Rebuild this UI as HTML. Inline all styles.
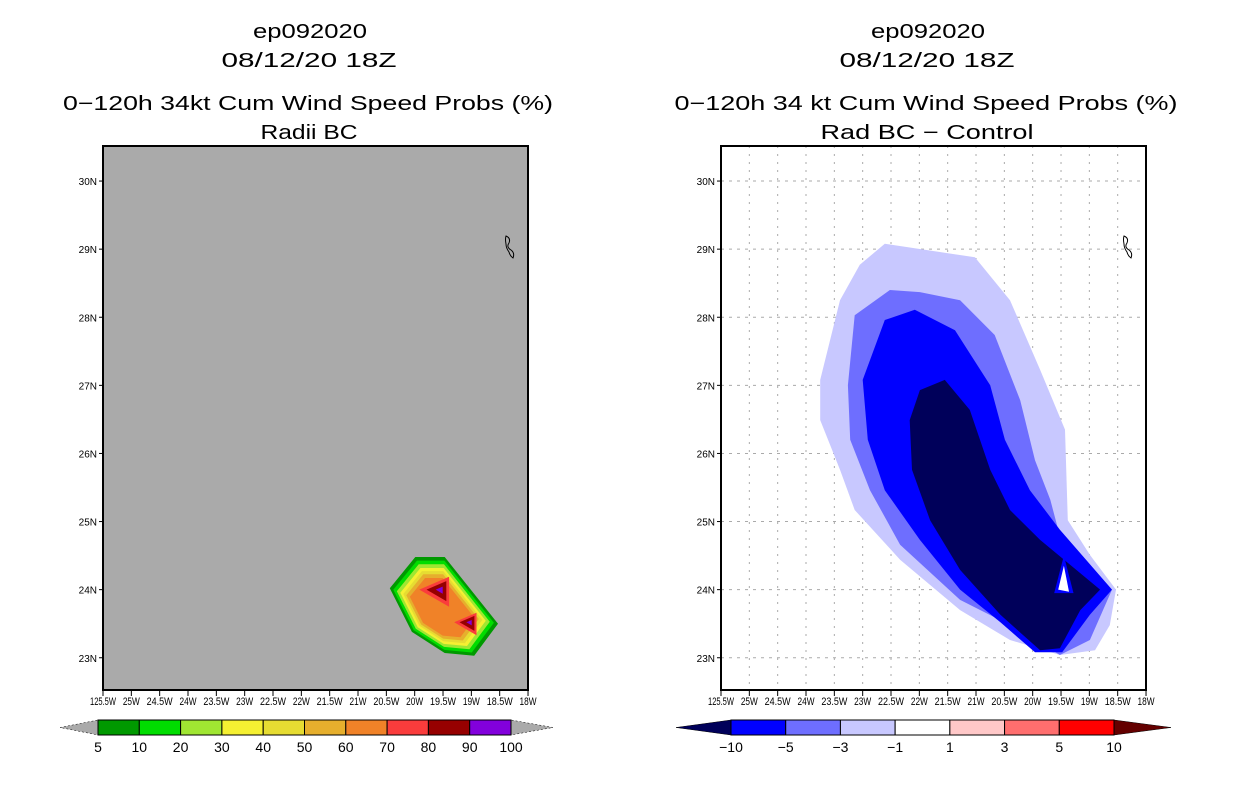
<!DOCTYPE html>
<html><head><meta charset="utf-8"><style>
body{margin:0;background:#fff;width:1236px;height:800px;overflow:hidden}
svg text{font-family:"Liberation Sans",sans-serif}
</style></head><body>
<svg id="s" width="1236" height="800" viewBox="0 0 1236 800">
<g font-size="20" text-anchor="middle" fill="#000" lengthAdjust="spacingAndGlyphs">
<text x="310" y="38" textLength="114" lengthAdjust="spacingAndGlyphs">ep092020</text>
<text x="309" y="67" textLength="175" lengthAdjust="spacingAndGlyphs">08/12/20 18Z</text>
<text x="308" y="110" textLength="490" lengthAdjust="spacingAndGlyphs">0−120h 34kt Cum Wind Speed Probs (%)</text>
<text x="309" y="139" textLength="97" lengthAdjust="spacingAndGlyphs">Radii BC</text>
<text x="928" y="38" textLength="114" lengthAdjust="spacingAndGlyphs">ep092020</text>
<text x="927" y="67" textLength="175" lengthAdjust="spacingAndGlyphs">08/12/20 18Z</text>
<text x="926" y="110" textLength="503" lengthAdjust="spacingAndGlyphs">0−120h 34 kt Cum Wind Speed Probs (%)</text>
<text x="927" y="139" textLength="213" lengthAdjust="spacingAndGlyphs">Rad BC − Control</text>
</g>
<g id="L"></g><g id="R"></g>
</svg>
<script>
const lonTicks=[-25.5,-25,-24.5,-24,-23.5,-23,-22.5,-22,-21.5,-21,-20.5,-20,-19.5,-19,-18.5,-18];
const lonLabels=["125.5W","25W","24.5W","24W","23.5W","23W","22.5W","22W","21.5W","21W","20.5W","20W","19.5W","19W","18.5W","18W"];
const latTicks=[23,24,25,26,27,28,29,30];
const latLabels=["23N","24N","25N","26N","27N","28N","29N","30N"];
// left: probability field polygons
const probOuter=[[-20.44,24.02],[-19.99,24.48],[-19.47,24.48],[-18.53,23.50],[-18.95,23.03],[-19.47,23.07],[-20.05,23.38]];
const probLevels=[5,10,20,30,40,50,60];
const probShrink=[1,0.93,0.86,0.79,0.73,0.67,0.6];
const peakCenters=[[-19.54,24.0],[-19.02,23.52]];
const peakLevels=[70,80,90];
const peakSizes=[0.42,0.28,0.1];
const probColors=["#009900","#00dd00","#a0e632","#f5f032","#e6dc32","#e6af2d","#f08228","#fa3c3c","#960000","#8200dc"];
const probBarLabels=["5","10","20","30","40","50","60","70","80","90","100"];
// right: difference field polygons
const diffLevels=[-1,-3,-5,-10];
const diffLight=[[-23.05,28.77],[-22.61,29.08],[-21.02,28.88],[-20.40,28.25],[-19.87,27.23],[-19.43,26.35],[-19.38,25.02],[-18.99,24.51],[-18.53,24.0],[-18.64,23.48],[-18.90,23.11],[-19.52,23.04],[-20.40,23.26],[-21.28,23.70],[-22.34,24.44],[-23.14,25.17],[-23.40,25.76],[-23.75,26.49],[-23.75,27.08],[-23.40,28.25]];
const diffMed=[[-23.26,27.0],[-23.14,28.03],[-22.52,28.40],[-21.99,28.37],[-21.28,28.25],[-20.67,27.74],[-20.22,26.78],[-19.96,25.90],[-19.69,25.32],[-19.48,24.66],[-18.60,24.0],[-18.99,23.26],[-19.52,23.04],[-20.40,23.48],[-21.28,23.85],[-22.34,24.66],[-22.87,25.46],[-23.22,26.20]];
const diffBlue=[[-23.0,27.08],[-22.61,27.96],[-22.08,28.11],[-21.37,27.81],[-20.75,27.0],[-20.49,26.20],[-20.05,25.46],[-19.52,24.88],[-18.60,24.0],[-18.99,23.63],[-19.48,23.08],[-19.96,23.08],[-20.57,23.52],[-21.28,24.0],[-21.99,24.73],[-22.61,25.46],[-22.91,26.20]];
const diffNavy=[[-22.17,26.49],[-21.99,26.93],[-21.55,27.08],[-21.11,26.64],[-20.75,25.76],[-20.40,25.17],[-19.87,24.73],[-18.81,24.0],[-19.16,23.70],[-19.52,23.14],[-19.87,23.11],[-20.57,23.63],[-21.28,24.29],[-21.81,25.02],[-22.13,25.76]];
const diffNotchBlue=[[-19.62,23.95],[-19.45,24.5],[-19.28,23.95]];
const diffNotch=[[-19.55,24.0],[-19.45,24.35],[-19.36,23.97]];
const diffColors=["#00005a","#0000ff","#6e6eff","#c8c8ff","#ffffff","#ffc8c8","#ff6e6e","#ff0000","#640000"];
const diffBarLabels=["−10","−5","−3","−1","1","3","5","10"];

const NS="http://www.w3.org/2000/svg";
function mk(p,t,a){const e=document.createElementNS(NS,t);for(const k in a)e.setAttribute(k,a[k]);p.appendChild(e);return e;}
const Y0=147,YD=68.1,XD=56.67;
function yS(lat){return Y0+(30.5-lat)*YD;}
function mkX(x0){return lon=>x0+(lon+25.5)*XD;}
function pts(poly,xS){return poly.map(p=>xS(p[0]).toFixed(1)+","+yS(p[1]).toFixed(1)).join(" ");}

function frame(g,x0,bg){
  const r=mk(g,"rect",{x:x0,y:146,width:425,height:544,fill:bg});
  
  
  return mkX(x0);
}
function axes(g,x0,grid){
  const xS=mkX(x0);
  if(grid){
    lonTicks.forEach(l=>{if(l>-25.5&&l<-18){const ln=mk(g,"line",{x1:xS(l),x2:xS(l),y1:146,y2:690,stroke:"#aaa","stroke-dasharray":"2,6"});
      
      }});
    latTicks.forEach(l=>{const ln=mk(g,"line",{x1:x0,x2:x0+425,y1:yS(l),y2:yS(l),stroke:"#aaa","stroke-dasharray":"3,5"});
      
      });
  }
  const c=mk(g,"path",{d:`M${x0+403},236 q5,2 3,7 q-3,4 2,7 q4,3 2,8 q-3,-2 -4,-6 q-3,-4 -3,-8 q-1,-5 0,-8z`,fill:"none",stroke:"#000","stroke-width":1});
  
  
  const b=mk(g,"rect",{x:x0,y:146,width:425,height:544,fill:"none",stroke:"#000","stroke-width":2});
  
  
  lonTicks.forEach((l,i)=>{
    mk(g,"line",{x1:xS(l),x2:xS(l),y1:690,y2:696,stroke:"#000"});
    const s=lonLabels[i];
    const w=s.length>=5?26:(s.length==4?21:17);
    const t=mk(g,"text",{x:xS(l),y:705,"font-size":11,"text-anchor":"middle",textLength:w,lengthAdjust:"spacingAndGlyphs"});
    t.textContent=s;
    
    
  });
  latTicks.forEach((l,i)=>{
    mk(g,"line",{x1:x0-4,x2:x0,y1:yS(l),y2:yS(l),stroke:"#000"});
    const t=mk(g,"text",{x:x0-6,y:yS(l)+4,"font-size":10,"text-anchor":"end"});
    t.textContent=latLabels[i];
    
    
  });
}
function colorbar(g,x0,x1,tl,tr,colors,labels,triL,triR){
  const n=colors.length-(triL?1:0)-(triR?1:0);
  const w=(x1-x0)/n,y=720,h=15;
  const left=mk(g,"polygon",{points:`${tl},${y+h/2} ${x0},${y} ${x0},${y+h}`,fill:triL||"#aaa",stroke:"#000","stroke-width":0.5,"stroke-dasharray":triL?"":"2,2"});
  
  
  const right=mk(g,"polygon",{points:`${tr},${y+h/2} ${x1},${y} ${x1},${y+h}`,fill:triR||"#aaa",stroke:"#000","stroke-width":0.5,"stroke-dasharray":triR?"":"2,2"});
  
  
  const inner=colors.slice(triL?1:0,colors.length-(triR?1:0));
  inner.forEach((c,i)=>{
    const r=mk(g,"rect",{x:x0+i*w,y:y,width:w,height:h,fill:c,stroke:"#000","stroke-width":1});
    
    
  });
  labels.forEach((s,i)=>{
    const t=mk(g,"text",{x:x0+i*w,y:752,"font-size":14,"text-anchor":"middle"});
    t.textContent=s;
    
    
  });
}
// LEFT
const L=document.getElementById("L");
const xL=frame(L,103,"#aaaaaa");
const cx=probOuter.reduce((a,p)=>a+p[0],0)/probOuter.length, cy=probOuter.reduce((a,p)=>a+p[1],0)/probOuter.length;
probLevels.forEach((lv,i)=>{
  const k=probShrink[i];
  const poly=probOuter.map(p=>[cx+(p[0]-cx)*k,cy+(p[1]-cy)*k]);
  const e=mk(L,"polygon",{points:pts(poly,xL),fill:probColors[i]});
  
  
});
peakCenters.forEach((c,j)=>{
  peakLevels.forEach((lv,i)=>{
    const s=peakSizes[i]*(j==0?1:0.75);
    const poly=[[c[0]-s*0.9,c[1]],[c[0]+s*0.35,c[1]+s*0.45],[c[0]+s*0.35,c[1]-s*0.6]];
    const e=mk(L,"polygon",{points:pts(poly,xL),fill:probColors[7+i]});
    
    
  });
});
axes(L,103,false);
colorbar(L,98,511,60,553,probColors,probBarLabels,null,null);
// RIGHT
const R=document.getElementById("R");
const xR=frame(R,721,"#ffffff");
axes(R,721,true);
[[diffLight,3],[diffMed,2],[diffBlue,1],[diffNavy,0],[diffNotchBlue,1],[diffNotch,4]].forEach(([poly,ci],i)=>{
  const e=mk(R,"polygon",{points:pts(poly,xR),fill:diffColors[ci]});
  
  
});
const b2=mk(R,"rect",{x:721,y:146,width:425,height:544,fill:"none",stroke:"#000","stroke-width":2});


colorbar(R,731,1114,676,1171,diffColors,diffBarLabels,diffColors[0],diffColors[8]);
</script>
</body></html>
